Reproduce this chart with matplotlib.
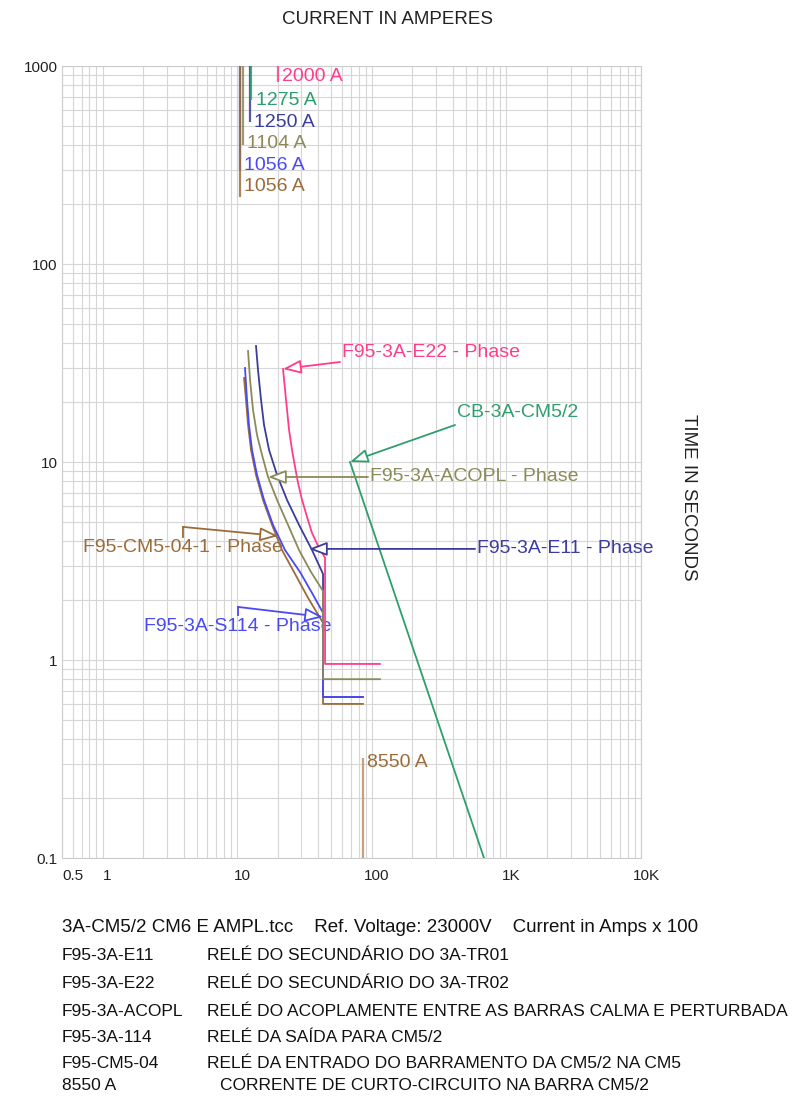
import matplotlib
matplotlib.use("Agg")
import matplotlib.pyplot as plt
from matplotlib.ticker import LogLocator, NullFormatter, FixedLocator, FixedFormatter
from matplotlib.transforms import ScaledTranslation

plt.rcParams['font.family'] = ['Liberation Sans', 'DejaVu Sans']

# ---- data: currents in A x 100, times in seconds ----
e22_I = [21.92, 23.08, 24.30, 25.57, 26.92, 28.34, 30.35, 33.05, 36.00, 39.88, 44.97]
e22_t = [29.49, 20.56, 14.51, 11.50, 9.44, 7.83, 6.43, 5.28, 4.38, 3.77, 3.28]
e22_inst = [44.97, 0.955, 115.0]   # pickup, definite time, end current

e11_I = [13.81, 14.29, 15.05, 15.84, 17.26, 19.79, 23.48, 28.83, 36.00, 43.45]
e11_t = [38.54, 29.15, 20.56, 15.38, 11.50, 8.60, 6.43, 4.81, 3.59, 2.72]
e11_inst = [43.45, 0.65, 86.0]

acopl_I = [12.05, 12.47, 13.12, 14.05, 15.31, 16.96, 19.79, 23.88, 28.83, 35.39, 43.45]
acopl_t = [36.36, 25.95, 18.31, 13.69, 10.85, 8.40, 6.43, 4.81, 3.59, 2.78, 2.23]
acopl_inst = [43.45, 0.80, 115.0]

s114_I = [11.44, 11.84, 12.25, 12.90, 14.05, 15.84, 18.47, 22.69, 29.33, 36.00, 43.45]
s114_t = [29.83, 20.56, 15.38, 11.50, 8.60, 6.43, 4.81, 3.59, 2.78, 2.18, 1.73]
s114_inst = [43.45, 0.65, 86.0]

cm504_I = [11.25, 11.64, 12.05, 12.68, 13.81, 15.57, 18.16, 21.55, 26.46, 33.62, 43.45]
cm504_t = [26.56, 20.56, 15.38, 11.50, 8.60, 6.43, 4.81, 3.59, 2.78, 2.06, 1.54]
cm504_inst = [43.45, 0.60, 86.0]

cb_I = [68.9, 682.0]
cb_t = [10.0, 0.1]

# pickup markers at the top of the chart
pickup_amps = [1056, 1056, 1104, 1250, 1275, 2000]
pickup_end_t = [218, 298, 399, 521, 673, 830]
pickup_label_t = [245, 316, 408, 521, 673, 880]

fault_amps = 8550
fault_t = 0.32

x_ticks = [0.5, 1, 10, 100, 1000, 10000]
x_labels = ["0.5", "1", "10", "100", "1K", "10K"]
y_ticks = [0.1, 1, 10, 100, 1000]
y_labels = ["0.1", "1", "10", "100", "1000"]

PINK = '#ff3d8b'
GREEN = '#2f9e6e'
DBLUE = '#3c3c9c'
OLIVE = '#8a8a5a'
BLUE = '#4a4af5'
BROWN = '#9c6b3a'
TAN = '#c8a07a'

pickup_colors = [BROWN, BLUE, OLIVE, DBLUE, GREEN, PINK]

W, H = 794, 1097
fig = plt.figure(figsize=(W / 100, H / 100), dpi=100)
ax = fig.add_axes([62 / W, 1 - 858 / H, (641 - 62) / W, (858 - 66) / H])
ax.set_xscale('log')
ax.set_yscale('log')
ax.set_xlim(0.5, 10000)
ax.set_ylim(0.1, 1000)

ax.xaxis.set_major_locator(FixedLocator(x_ticks))
ax.xaxis.set_major_formatter(FixedFormatter(x_labels))
ax.yaxis.set_major_locator(FixedLocator(y_ticks))
ax.yaxis.set_major_formatter(FixedFormatter(y_labels))
ax.xaxis.set_minor_locator(LogLocator(base=10, subs=range(2, 10), numticks=20))
ax.yaxis.set_minor_locator(LogLocator(base=10, subs=range(2, 10), numticks=20))
ax.xaxis.set_minor_formatter(NullFormatter())
ax.yaxis.set_minor_formatter(NullFormatter())
ax.tick_params(which='both', length=0, labelsize=11, colors='#222222')
ax.tick_params(axis='x', pad=8)
ax.tick_params(axis='y', pad=3)
ax.grid(which='both', color='#d6d6d6', lw=0.8)
for s in ax.spines.values():
    s.set_color('#cccccc')
    s.set_linewidth(0.8)

# shift x tick labels slightly right, first one left-aligned
for i, lbl in enumerate(ax.get_xticklabels()):
    if i == 0:
        lbl.set_horizontalalignment('left')
    else:
        lbl.set_transform(lbl.get_transform() + ScaledTranslation(5 / 100, 0, fig.dpi_scale_trans))


def relay(I, t, inst, color, z):
    xs = list(I) + [inst[0], inst[0], inst[2]]
    ys = list(t) + [t[-1], inst[1], inst[1]]
    ax.plot(xs, ys, color=color, lw=1.3, zorder=z, solid_joinstyle='round')


relay(e11_I, e11_t, e11_inst, DBLUE, 3)
relay(cm504_I, cm504_t, cm504_inst, BROWN, 3)
relay(s114_I, s114_t, s114_inst, BLUE, 4)
relay(acopl_I, acopl_t, acopl_inst, OLIVE, 4)
relay(e22_I, e22_t, e22_inst, PINK, 5)

ax.plot(cb_I, cb_t, color=GREEN, lw=1.3, zorder=4)

# pickup markers
order = [3, 4, 2, 1, 0, 5]
for k in order:
    a = pickup_amps[k] / 100
    ax.plot([a, a], [1000, pickup_end_t[k]], color=pickup_colors[k], lw=1.6,
            alpha=0.85, zorder=3, solid_capstyle='butt')

LABEL_FS = 14
for k in range(len(pickup_amps)):
    a = pickup_amps[k] / 100
    ax.annotate(f"{pickup_amps[k]} A", (a, pickup_label_t[k]), xytext=(3, 0),
                textcoords='offset points', ha='left', va='center',
                color=pickup_colors[k], fontsize=LABEL_FS, zorder=6)

# fault current marker
ax.plot([fault_amps / 100] * 2, [0.1, fault_t], color=TAN, lw=1.6, zorder=3,
        solid_capstyle='butt')
ax.annotate(f"{fault_amps} A", (fault_amps / 100, 0.305), xytext=(3, 0),
            textcoords='offset points', ha='left', va='center', color=BROWN,
            fontsize=LABEL_FS)


def arrow(path, color):
    # path: list of points, last one is the arrow tip
    if len(path) > 2:
        ax.plot([p[0] for p in path[:-1]], [p[1] for p in path[:-1]],
                color=color, lw=1.3, zorder=6)
    ax.annotate('', xy=path[-1], xytext=path[-2],
                arrowprops=dict(arrowstyle='-|>,head_length=1.1,head_width=0.42',
                                fc='white', ec=color, lw=1.3, shrinkA=0, shrinkB=0),
                zorder=6)


arrow([(58.1, 32.0), (21.93, 29.5)], PINK)
ax.text(60.1, 35.9, "F95-3A-E22 - Phase", color=PINK, fontsize=LABEL_FS,
        ha='left', va='center')

arrow([(415.6, 15.38), (68.9, 10.0)], GREEN)
ax.text(430, 17.7, "CB-3A-CM5/2", color=GREEN, fontsize=LABEL_FS,
        ha='left', va='center')

arrow([(93.8, 8.40), (16.96, 8.40)], OLIVE)
ax.text(97.1, 8.40, "F95-3A-ACOPL - Phase", color=OLIVE, fontsize=LABEL_FS,
        ha='left', va='center')

arrow([(585.4, 3.64), (34.2, 3.64)], DBLUE)
ax.text(605.7, 3.64, "F95-3A-E11 - Phase", color=DBLUE, fontsize=LABEL_FS,
        ha='left', va='center')

arrow([(3.96, 4.18), (3.96, 4.70), (20.12, 4.23)], BROWN)
ax.text(3.93, 3.72, "F95-CM5-04-1 - Phase", color=BROWN, fontsize=LABEL_FS,
        ha='center', va='center')

arrow([(10.15, 1.688), (10.15, 1.853), (43.45, 1.649)], BLUE)
ax.text(10.07, 1.468, "F95-3A-S114 - Phase", color=BLUE, fontsize=LABEL_FS,
        ha='center', va='center')

# axis titles
fig.text(387 / W, 1 - 20 / H, "CURRENT IN AMPERES", ha='center', va='center',
         fontsize=13.5, color='#222222')
fig.text(688 / W, 1 - 497 / H, "TIME IN SECONDS", ha='center', va='center',
         rotation=270, fontsize=13.5, color='#222222')

# footer
fig.text(62 / W, 1 - 927 / H,
         "3A-CM5/2 CM6 E AMPL.tcc    Ref. Voltage: 23000V    Current in Amps x 100",
         ha='left', va='center', fontsize=13.5, color='#111111')

legend_codes = ["F95-3A-E11", "F95-3A-E22", "F95-3A-ACOPL", "F95-3A-114", "F95-CM5-04", "8550 A"]
legend_desc = ["RELÉ DO SECUNDÁRIO DO 3A-TR01",
               "RELÉ DO SECUNDÁRIO DO 3A-TR02",
               "RELÉ DO ACOPLAMENTE ENTRE AS BARRAS CALMA E PERTURBADA",
               "RELÉ DA SAÍDA PARA CM5/2",
               "RELÉ DA ENTRADO DO BARRAMENTO DA CM5/2 NA CM5",
               "CORRENTE DE CURTO-CIRCUITO NA BARRA CM5/2"]
row_y = [956, 984, 1011, 1038, 1063, 1085]
desc_x = [207, 207, 207, 207, 207, 220]
for code, desc, y, dx in zip(legend_codes, legend_desc, row_y, desc_x):
    fig.text(62 / W, 1 - y / H, code, ha='left', va='center', fontsize=12.5,
             color='#111111')
    fig.text(dx / W, 1 - y / H, desc, ha='left', va='center', fontsize=12.5,
             color='#111111')

fig.savefig("out.png", dpi=100, facecolor='white')
